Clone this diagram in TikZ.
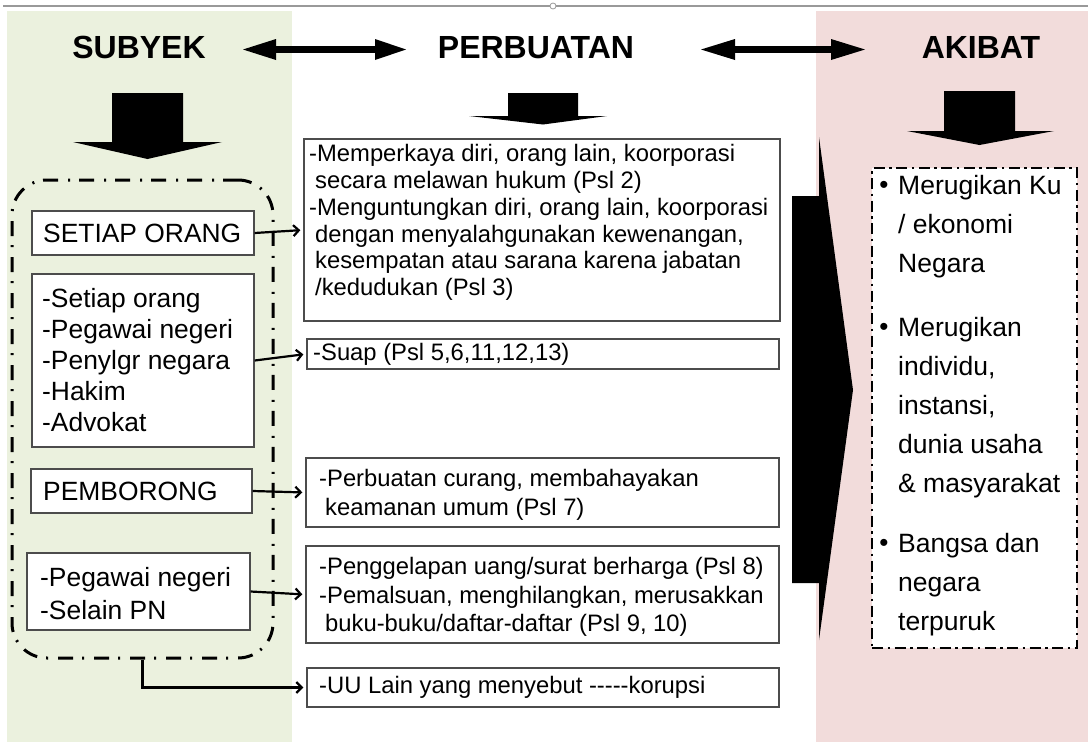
\documentclass[tikz,border=0pt]{standalone}
\usepackage{fontspec}
\setmainfont{Liberation Sans}
\usetikzlibrary{arrows.meta,calc}
\definecolor{pgreen}{HTML}{EBF1DE}
\definecolor{ppink}{HTML}{F2DCDB}
\begin{document}
\begin{tikzpicture}[x=1pt,y=-1pt,
 box/.style={draw=black!70, fill=white, line width=1.3pt, inner sep=0pt},
 ltxt/.style={inner sep=0pt, align=left, font=\fontsize{26.4}{31}\selectfont},
 mtxt/.style={inner sep=0pt, align=left, font=\fontsize{23.8}{26.7}\selectfont},
 rtxt/.style={inner sep=0pt, align=left, font=\fontsize{26.5}{39}\selectfont},
 bul/.style={inner sep=0pt, font=\fontsize{26}{30}\selectfont},
 ttl/.style={inner sep=0pt, anchor=base, font=\fontsize{32}{34}\selectfont\bfseries},
 blk/.style={fill=black},
 conn/.style={line width=2.2pt, -{Straight Barb[length=5.5pt,width=11pt]}, shorten >=3pt},
 grpbox/.style={draw=black, line width=3pt, rounded corners=35pt, dash pattern=on 15pt off 9pt on 2pt off 10pt},
 rboxs/.style={draw=black, fill=white, line width=2.5pt, dash pattern=on 11pt off 4.5pt on 2.5pt off 4.5pt}]
\useasboundingbox (0,0) rectangle (1088,742);
\fill[white] (0,0) rectangle (1088,742);
% panels
\fill[pgreen] (7,11) rectangle (292,742);
\fill[ppink] (816,11) rectangle (1088,742);
% top selection line
\draw[black!40, line width=1.2pt] (3,6) -- (1088,6);
\draw[black!40, fill=white, line width=0.8pt] (553,6) circle (3);
% titles
\node[ttl] (tsub) at (139,58) {SUBYEK};
\node[ttl] (tper) at (536,58) {PERBUATAN};
\node[ttl] (taki) at (981,58) {AKIBAT};
% double block arrows
\fill[blk] (243,49.5) -- (276,39) -- (276,46.2) -- (375,46.2) -- (375,39) -- (406,49.5)
  -- (375,60) -- (375,52.8) -- (276,52.8) -- (276,60) -- cycle;
\fill[blk] (701,49.5) -- (735,39) -- (735,46.2) -- (831,46.2) -- (831,39) -- (865,49.5)
  -- (831,60) -- (831,52.8) -- (735,52.8) -- (735,60) -- cycle;
% down block arrows
\fill[blk] (112,93) -- (183,93) -- (183,142) -- (222,142) -- (147.5,159) -- (73,142) -- (112,142) -- cycle;
\fill[blk] (508,93) -- (578,93) -- (578,116) -- (607,116) -- (543,124.5) -- (469,116) -- (508,116) -- cycle;
\fill[blk] (944,91) -- (1015,91) -- (1015,131) -- (1054,131) -- (979.5,145) -- (907,131) -- (944,131) -- cycle;
% big right arrow
\fill[blk] (792,196) -- (819,196) -- (819,137) -- (853,390) -- (819,640) -- (819,583) -- (792,583) -- cycle;
% left boxes
\node[box, minimum width=222pt, minimum height=44pt] (so) at (143,233) {};
\node[box, minimum width=222pt, minimum height=173pt] (lb2) at (143,360.5) {};
\node[box, minimum width=221pt, minimum height=44pt] (pb) at (141.5,491) {};
\node[box, minimum width=223pt, minimum height=77pt] (lb4) at (138.5,591.5) {};
\node[ltxt, anchor=west] (tso) at (43,233) {SETIAP ORANG};
\node[ltxt, anchor=north west] (tlb2) at (42,288.5) {-Setiap orang\\-Pegawai negeri\\-Penylgr negara\\-Hakim\\-Advokat};
\node[ltxt, anchor=west] (tpb) at (43,491) {PEMBORONG};
\node[ltxt, anchor=north west, font=\fontsize{26.4}{33}\selectfont] (tlb4) at (40,567.5) {-Pegawai negeri\\-Selain PN};
% group box
\node[grpbox, minimum width=261pt, minimum height=478pt] (grp) at (142.5,419) {};
% middle boxes
\node[box, minimum width=476pt, minimum height=182pt] (b1) at (542,230) {};
\node[box, minimum width=472pt, minimum height=30pt] (b2) at (543,354) {};
\node[box, minimum width=473pt, minimum height=69pt] (b3) at (542.5,492.5) {};
\node[box, minimum width=473pt, minimum height=97pt] (b4) at (542.5,594.5) {};
\node[box, minimum width=472pt, minimum height=39pt] (b5) at (543,687.5) {};
\node[mtxt, anchor=north west] (tb1) at (309,144.5) {-Memperkaya diri, orang lain, koorporasi\\
 \hspace*{6pt}secara melawan hukum (Psl 2)\\
 -Menguntungkan diri, orang lain, koorporasi\\
 \hspace*{6pt}dengan menyalahgunakan kewenangan,\\
 \hspace*{6pt}kesempatan atau sarana karena jabatan\\
 \hspace*{6pt}/kedudukan (Psl 3)};
\node[mtxt, anchor=west] (tb2) at (313,354) {-Suap (Psl 5,6,11,12,13)};
\node[mtxt, anchor=north west, font=\fontsize{23.8}{29}\selectfont] (tb3) at (319,469.5) {-Perbuatan curang, membahayakan\\
 \hspace*{6pt}keamanan umum (Psl 7)};
\node[mtxt, anchor=north west, font=\fontsize{23.8}{28.5}\selectfont] (tb4) at (319,557.5) {-Penggelapan uang/surat berharga (Psl 8)\\
 -Pemalsuan, menghilangkan, merusakkan\\
 \hspace*{6pt}buku-buku/daftar-daftar (Psl 9, 10)};
\node[mtxt, anchor=west] (tb5) at (319,687.5) {-UU Lain yang menyebut -{}-{}-{}-{}-korupsi};
% right box
\node[rboxs, minimum width=205pt, minimum height=480pt] (rb) at (974.5,408) {};
\node[bul] (u1) at (884,187) {\textbullet};
\node[bul] (u2) at (884,329) {\textbullet};
\node[bul] (u3) at (884,545) {\textbullet};
\node[rtxt, anchor=north west] (r1) at (898,175) {Merugikan Ku\\/ ekonomi\\Negara};
\node[rtxt, anchor=north west] (r2) at (898,317) {Merugikan\\individu,\\instansi,\\dunia usaha\\\& masyarakat};
\node[rtxt, anchor=north west] (r3) at (898,533) {Bangsa dan\\negara\\terpuruk};
% connectors
\draw[conn] (so.east) -- (b1.west);
\draw[conn] (lb2.east) -- (b2.west);
\draw[conn] (pb.east) -- (b3.west);
\draw[conn] (lb4.east) -- (b4.west);
\draw[conn] (grp.south) |- (b5.west);
\end{tikzpicture}
\end{document}
